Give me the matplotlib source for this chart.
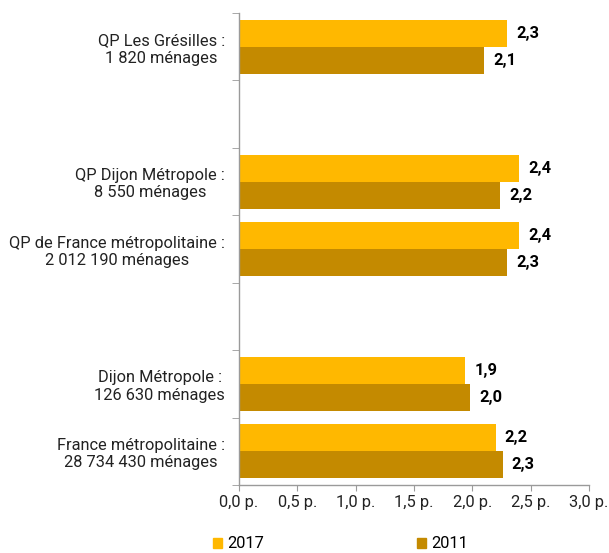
import matplotlib.pyplot as plt
from matplotlib.patches import Patch

plt.rcParams["font.family"] = ["Roboto", "DejaVu Sans"]

# rows from top; empty strings are the gaps between groups
categories = [
    "QP Les Grésilles :\n1 820 ménages",
    "",
    "QP Dijon Métropole :\n8 550 ménages",
    "QP de France métropolitaine :\n2 012 190 ménages",
    "",
    "Dijon Métropole :\n126 630 ménages",
    "France métropolitaine :\n28 734 430 ménages",
]
v2017 = [2.30, None, 2.40, 2.40, None, 1.94, 2.20]
v2011 = [2.10, None, 2.24, 2.30, None, 1.98, 2.26]
xticks = [0.0, 0.5, 1.0, 1.5, 2.0, 2.5, 3.0]

c2017 = "#FFB800"
c2011 = "#C48A00"
grey = "#9A9A9A"
fs = 11.8

fig = plt.figure(figsize=(6.09, 5.53), dpi=100)
ax = fig.add_axes([239 / 609, 68 / 553, 350 / 609, 472 / 553])

h = 0.4
for i, (a, b) in enumerate(zip(v2017, v2011)):
    if a is None:
        continue
    ax.barh(i - h / 2, a, height=h, color=c2017)
    ax.barh(i + h / 2, b, height=h, color=c2011)
    ax.annotate(f"{a:.1f}".replace(".", ","), (a, i - h / 2), xytext=(6.5, 0),
                textcoords="offset points", va="center", ha="left",
                fontsize=fs, fontweight="bold")
    ax.annotate(f"{b:.1f}".replace(".", ","), (b, i + h / 2), xytext=(6.5, 0),
                textcoords="offset points", va="center", ha="left",
                fontsize=fs, fontweight="bold")

ax.set_ylim(len(categories) - 0.5, -0.5)
ax.set_xlim(0, 3.0)

ax.set_yticks(range(len(categories)))
ax.set_yticklabels(categories, fontsize=fs, multialignment="center", color="#222222")
ax.tick_params(axis="y", length=0, pad=10)
ax.set_yticks([i - 0.5 for i in range(len(categories) + 1)], minor=True)
ax.tick_params(axis="y", which="minor", length=5, color=grey)

ax.set_xticks(xticks)
ax.set_xticklabels([f"{x:.1f}".replace(".", ",") + " p." for x in xticks],
                   fontsize=fs, color="#222222")
ax.tick_params(axis="x", length=4, color=grey, pad=3)

for s in ["top", "right"]:
    ax.spines[s].set_visible(False)
for s in ["left", "bottom"]:
    ax.spines[s].set_color(grey)
    ax.spines[s].set_linewidth(1.0)

handles = [Patch(color=c2017, label="2017"), Patch(color=c2011, label="2011")]
fig.legend(handles=handles, loc="center left", bbox_to_anchor=(198 / 609, 9 / 553),
           ncol=2, frameon=False, fontsize=fs, handlelength=0.55, handleheight=0.55,
           handletextpad=0.35, columnspacing=9.3)

fig.savefig("out.png", dpi=100)
